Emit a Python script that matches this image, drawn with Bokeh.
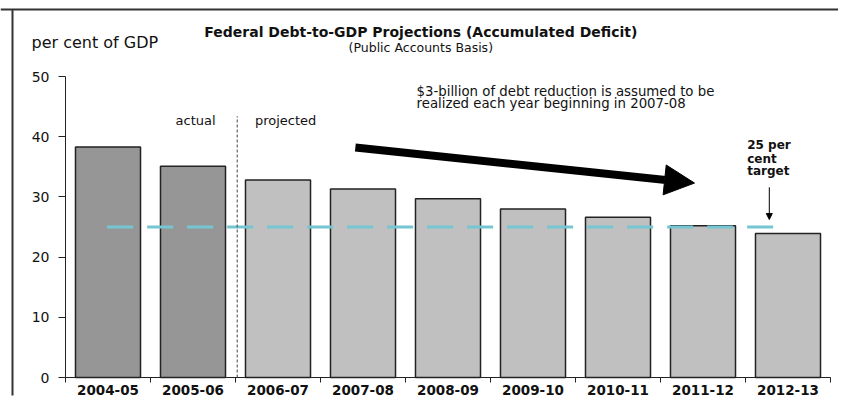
from bokeh.plotting import figure
from bokeh.models import (ColumnDataSource, FixedTicker, Label, Arrow, NormalHead,
                          Range1d, LinearAxis, Span)
from bokeh.embed import file_html
from bokeh.resources import INLINE

# ---- data ----
years = ["2004-05", "2005-06", "2006-07", "2007-08", "2008-09",
         "2009-10", "2010-11", "2011-12", "2012-13"]
debt_pct = [38.3, 35.1, 32.8, 31.3, 29.7, 28.0, 26.6, 25.2, 23.9]
status = ["actual", "actual", "projected", "projected", "projected",
          "projected", "projected", "projected", "projected"]
target_pct = 25
y_ticks = [0, 10, 20, 30, 40, 50]

status_colors = {"actual": "#969696", "projected": "#c0c0c0"}
FONT = "DejaVu Sans"

centers = [i + 0.5 for i in range(len(years))]
bounds = list(range(len(years) + 1))

src = ColumnDataSource(dict(
    x=centers, top=debt_pct, year=years, status=status,
    color=[status_colors[s] for s in status],
))

# pixel scale of the layout: 85 px per category, 6.02 px per percentage point
PX_X, PX_Y = 85.0, 6.02
W, H = 838, 396
X0, Y0 = 65, 377   # canvas position of the data origin

p = figure(width=W, height=H, output_backend="svg", toolbar_location=None,
           x_range=Range1d(-X0 / PX_X, (W - X0) / PX_X),
           y_range=Range1d(-(H - Y0) / PX_Y, Y0 / PX_Y),
           min_border=0, outline_line_color=None, border_fill_color=None,
           x_axis_location=None, y_axis_location=None)
p.grid.visible = False

xa = LinearAxis(fixed_location=0, bounds=(0, len(years)))
ya = LinearAxis(fixed_location=0, bounds=(0, 50))
p.add_layout(xa, "below")
p.add_layout(ya, "left")

# outer chart box: left edge as a segment, top edge as a span
fx, fy = -(X0 - 12) / PX_X, (Y0 - 9) / PX_Y
fb = -(H - Y0 - 1) / PX_Y
p.segment(x0=[fx], y0=[fb], x1=[fx], y1=[fy], line_color="#333333", line_width=2)
p.add_layout(Span(location=fy, dimension="width", line_color="#333333", line_width=2))

p.vbar(x="x", top="top", width=0.765, source=src, fill_color="color",
       line_color="#222222", line_width=1.5)

# 25 per cent target line
p.line(x=[0.49, 8.34], y=[target_pct, target_pct], line_color="#74c7d2",
       line_width=3, line_dash="26 14")

# actual / projected divider
p.line(x=[2.02, 2.02], y=[0, 43.4], line_color="#444444", line_width=1,
       line_dash="3 2")

xa.ticker = FixedTicker(ticks=centers, minor_ticks=bounds)
xa.major_label_overrides = {c: y for c, y in zip(centers, years)}
xa.major_tick_line_color = None
xa.major_tick_out = 0
xa.major_tick_in = 0
xa.minor_tick_line_color = "#222222"
xa.minor_tick_in = 0
xa.minor_tick_out = 5
xa.axis_line_color = "#222222"
xa.major_label_text_font = FONT
xa.major_label_text_font_style = "bold"
xa.major_label_text_font_size = "13.5px"
xa.major_label_text_color = "#111111"
xa.major_label_standoff = 2

ya.ticker = FixedTicker(ticks=y_ticks)
ya.minor_tick_line_color = None
ya.major_tick_in = 0
ya.major_tick_out = 7
ya.major_tick_line_color = "#222222"
ya.axis_line_color = "#222222"
ya.major_label_text_font = FONT
ya.major_label_text_font_size = "14px"
ya.major_label_text_color = "#111111"
ya.major_label_standoff = 9


def lab(x, y, text, size, bold=False, align="left"):
    p.add_layout(Label(x=x, y=y, text=text, text_font=FONT,
                       text_font_size=size, text_align=align,
                       text_baseline="alphabetic", text_color="#111111",
                       text_font_style="bold" if bold else "normal"))


lab(4.18, 57.4, "Federal Debt-to-GDP Projections (Accumulated Deficit)", "14px", True, "center")
lab(4.18, 54.9, "(Public Accounts Basis)", "12.5px", False, "center")
lab(-0.4, 55.7, "per cent of GDP", "16px")
lab(1.53, 42.75, "actual", "13px", False, "center")
lab(2.59, 42.75, "projected", "13px", False, "center")
lab(4.13, 47.5, "$3-billion of debt reduction is assumed to be", "13.3px")
lab(4.13, 45.45, "realized each year beginning in 2007-08", "13.3px")
lab(8.02, 38.6, "25 per", "12px", True)
lab(8.02, 36.35, "cent", "12px", True)
lab(8.02, 34.25, "target", "12px", True)

# big trend arrow
p.add_layout(Arrow(end=NormalHead(size=30, fill_color="black", line_color="black"),
                   x_start=3.41, y_start=38.2, x_end=7.4, y_end=32.3,
                   line_width=8, line_color="black"))
# small target arrow
p.add_layout(Arrow(end=NormalHead(size=6, fill_color="black", line_color="black"),
                   x_start=8.28, y_start=31.6, x_end=8.28, y_end=26.25,
                   line_width=1, line_color="black"))

open("out.html", "w").write(file_html(p, INLINE))
